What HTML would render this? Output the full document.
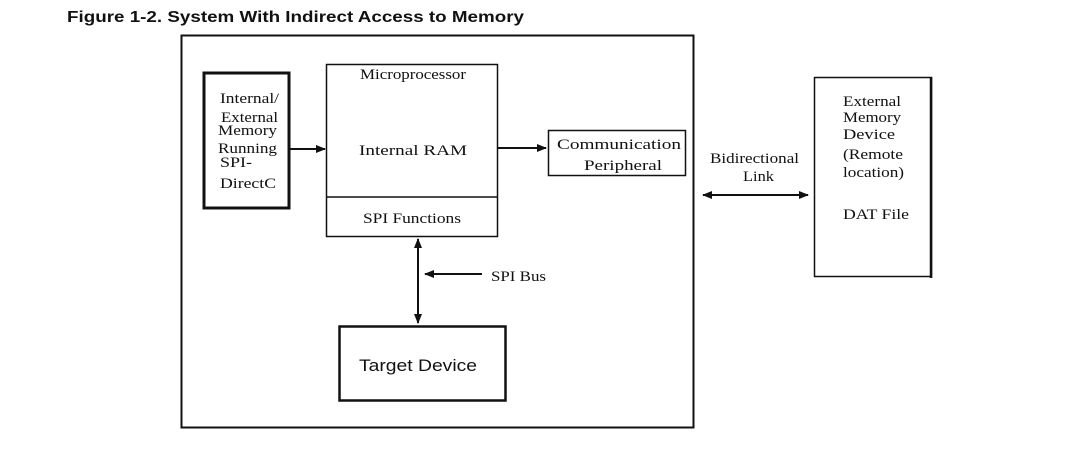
<!DOCTYPE html>
<html><head><meta charset="utf-8"><style>
html,body{margin:0;padding:0;background:#fff;width:1067px;height:458px;overflow:hidden}
svg{display:block}
.s{font-family:"Liberation Serif",serif;font-size:15px;fill:#111}
.a{font-family:"Liberation Sans",sans-serif;fill:#111}
</style></head><body>
<svg width="1067" height="458" viewBox="0 0 1067 458">
<defs>
<marker id="ah" markerWidth="10" markerHeight="8" refX="9" refY="4" orient="auto" markerUnits="userSpaceOnUse">
<path d="M0,0 L10,4 L0,8 z" fill="#111"/></marker>
<marker id="as" markerWidth="10" markerHeight="8" refX="1" refY="4" orient="auto" markerUnits="userSpaceOnUse">
<path d="M10,0 L0,4 L10,8 z" fill="#111"/></marker>
</defs>
<text x="67" y="22" class="a" font-size="16" font-weight="bold" textLength="457" lengthAdjust="spacingAndGlyphs">Figure 1-2. System With Indirect Access to Memory</text>
<rect x="181.5" y="35.5" width="512" height="392" fill="none" stroke="#111" stroke-width="2"/>
<rect x="204" y="73" width="85" height="135" fill="none" stroke="#111" stroke-width="3"/>
<g lengthAdjust="spacingAndGlyphs">
<text class="s" x="220" y="103" textLength="59" lengthAdjust="spacingAndGlyphs">Internal/</text>
<text class="s" x="221" y="122" textLength="57" lengthAdjust="spacingAndGlyphs">External</text>
<text class="s" x="218" y="135" textLength="59" lengthAdjust="spacingAndGlyphs">Memory</text>
<text class="s" x="218" y="153" textLength="59" lengthAdjust="spacingAndGlyphs">Running</text>
<text class="s" x="220" y="167" textLength="32" lengthAdjust="spacingAndGlyphs">SPI-</text>
<text class="s" x="220" y="188" textLength="56" lengthAdjust="spacingAndGlyphs">DirectC</text>
</g>
<rect x="326.5" y="64.5" width="171" height="172" fill="none" stroke="#111" stroke-width="1.5"/>
<line x1="326" y1="197" x2="498" y2="197" stroke="#111" stroke-width="1.5"/>
<text class="s" x="360" y="79" textLength="106" lengthAdjust="spacingAndGlyphs">Microprocessor</text>
<text class="s" x="359" y="155" font-size="18" textLength="108" lengthAdjust="spacingAndGlyphs">Internal RAM</text>
<text class="s" x="363" y="223" textLength="98" lengthAdjust="spacingAndGlyphs">SPI Functions</text>
<rect x="548.5" y="130.5" width="137" height="45" fill="none" stroke="#111" stroke-width="1.5"/>
<text class="s" x="557" y="149" font-size="17" textLength="124" lengthAdjust="spacingAndGlyphs">Communication</text>
<text class="s" x="584" y="170" font-size="17" textLength="78" lengthAdjust="spacingAndGlyphs">Peripheral</text>
<line x1="289" y1="149" x2="325" y2="149" stroke="#111" stroke-width="2" marker-end="url(#ah)"/>
<line x1="498" y1="148" x2="546" y2="148" stroke="#111" stroke-width="2" marker-end="url(#ah)"/>
<line x1="418" y1="239" x2="418" y2="323" stroke="#111" stroke-width="2" marker-start="url(#as)" marker-end="url(#ah)"/>
<line x1="482" y1="274" x2="425" y2="274" stroke="#111" stroke-width="2" marker-end="url(#ah)"/>
<text class="s" x="491" y="281" textLength="55" lengthAdjust="spacingAndGlyphs">SPI Bus</text>
<rect x="339.5" y="326.5" width="166" height="74" fill="none" stroke="#111" stroke-width="2.5"/>
<text class="a" x="359" y="371" font-size="17" textLength="118" lengthAdjust="spacingAndGlyphs">Target Device</text>
<line x1="703" y1="195" x2="808" y2="195" stroke="#111" stroke-width="2" marker-start="url(#as)" marker-end="url(#ah)"/>
<text class="s" x="710" y="163" textLength="89" lengthAdjust="spacingAndGlyphs">Bidirectional</text>
<text class="s" x="743" y="181" textLength="31" lengthAdjust="spacingAndGlyphs">Link</text>
<rect x="814.5" y="77.5" width="117" height="199" fill="none" stroke="#111" stroke-width="1.5"/>
<line x1="931" y1="77" x2="931" y2="278" stroke="#111" stroke-width="2.5"/>
<text class="s" x="843" y="106" textLength="58" lengthAdjust="spacingAndGlyphs">External</text>
<text class="s" x="843" y="122" textLength="58" lengthAdjust="spacingAndGlyphs">Memory</text>
<text class="s" x="843" y="139" textLength="52" lengthAdjust="spacingAndGlyphs">Device</text>
<text class="s" x="843" y="159" textLength="60" lengthAdjust="spacingAndGlyphs">(Remote</text>
<text class="s" x="843" y="177" textLength="61" lengthAdjust="spacingAndGlyphs">location)</text>
<text class="s" x="843" y="219" textLength="66" lengthAdjust="spacingAndGlyphs">DAT File</text>
</svg>
</body></html>
